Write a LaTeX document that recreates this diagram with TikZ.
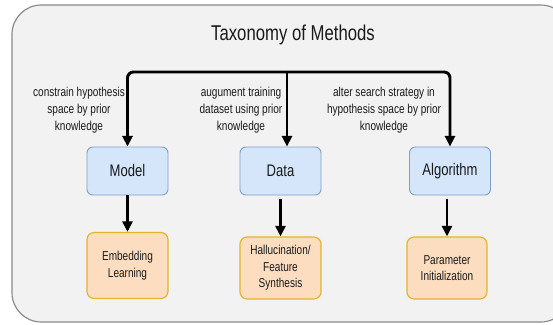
\documentclass[tikz,border=0pt]{standalone}
\usepackage{fontspec}
\setmainfont[FakeStretch=0.78]{Liberation Sans}
\usetikzlibrary{arrows.meta}
\definecolor{framefill}{HTML}{F2F2F2}
\definecolor{framedraw}{HTML}{8A8A8A}
\definecolor{bluefill}{HTML}{D5E6FB}
\definecolor{bluedraw}{HTML}{7FA0CC}
\definecolor{orangefill}{HTML}{FCDDC0}
\definecolor{orangedraw}{HTML}{E3B42E}
\definecolor{txt}{HTML}{1A1A1A}
\begin{document}
\begin{tikzpicture}[x=0.03cm, y=-0.03cm,
    method/.style={draw=bluedraw, fill=bluefill, rounded corners=5pt, line width=0.8pt,
        minimum width=2.43cm, minimum height=1.44cm, text=txt,
        font=\fontsize{14.3}{16}\selectfont},
    leaf/.style={draw=orangedraw, fill=orangefill, rounded corners=6pt, line width=1pt,
        minimum width=2.43cm, minimum height=1.86cm, text=txt, align=center,
        font=\fontsize{11}{14}\selectfont},
    note/.style={align=center, text=txt, inner sep=0pt, font=\fontsize{11}{14.5}\selectfont},
    arr/.style={-{Triangle[width=8.5pt,length=9pt]}, line width=2.5pt}]
    % Background panel
    \clip (0,0) rectangle (553,324);
    \fill[white] (0,0) rectangle (553,324);
    \draw[framedraw, fill=framefill, line width=1pt, rounded corners=25pt] (12,5) rectangle (570,322);

    % Title
    \node[text=txt, font=\fontsize{18.3}{20}\selectfont] (title) at (293,35) {Taxonomy of Methods};

    % Method nodes
    \node[method] (model) at (127.5,171) {Model};
    \node[method] (data) at (280.5,171) {Data};
    \node[method] (algo) at (450,171) {Algorithm};

    % Technique nodes
    \node[leaf, minimum height=1.98cm] (embed) at (127.5,265.5) {Embedding\\Learning};
    \node[leaf] (halluc) at (280.5,268) {Hallucination/\\Feature\\Synthesis};
    \node[leaf, minimum width=2.4cm] (param) at (447,268) {Parameter\\Initialization};

    % Branching point of the top bar
    \coordinate (split) at (287,72);

    % Top connectors
    \draw[arr, rounded corners=5pt] (split) -| (model.north);
    \draw[arr] (split) -- (split |- data.north);
    \draw[arr, rounded corners=5pt] (split) -| (algo.north);

    % Lower connectors
    \draw[arr] (model.south) -- (embed.north);
    \draw[arr, shorten <=3pt] (data.south) -- (halluc.north);
    \draw[arr, shorten <=3pt] (algo.south -| param.north) -- (param.north);

    % Edge notes
    \node[note] (n1) at (79,110) {constrain hypothesis\\space by prior\\knowledge};
    \node[note] (n2) at (241,110) {augument training\\dataset using prior\\knowledge};
    \node[note] (n3) at (384,110) {alter search strategy in\\hypothesis space by prior\\knowledge};
\end{tikzpicture}
\end{document}
